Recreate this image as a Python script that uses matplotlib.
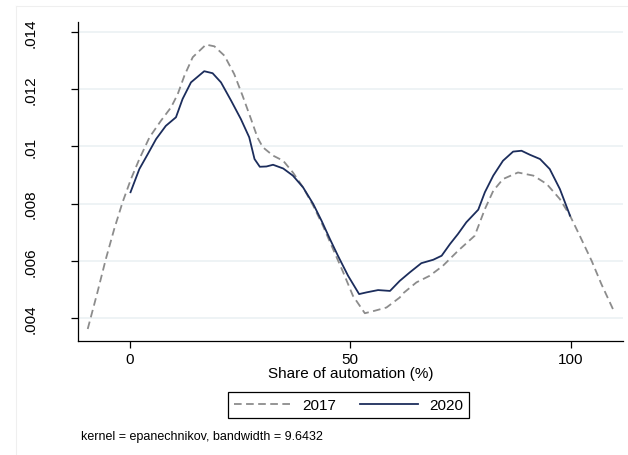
import matplotlib
matplotlib.use("Agg")
import matplotlib.pyplot as plt
from matplotlib.lines import Line2D

plt.rcParams['font.family'] = ['Liberation Sans', 'DejaVu Sans']
plt.rcParams['lines.scale_dashes'] = False

# kernel density estimates, share of automation (%) vs density
x_2017 = [-9.5, -7.3, -5.4, -3.5, -1.6, 0.3, 2.2, 4.5, 7.1, 9.4, 10.9, 12.4, 14.3,
          17.3, 19.2, 21.5, 23.7, 25.6, 27.5, 29.0, 30.2, 32.5, 34.8, 37.0, 39.3,
          41.6, 43.8, 46.1, 48.4, 50.6, 53.3, 55.6, 58.2, 61.2, 62.0, 65.0, 68.0,
          71.0, 74.4, 78.2, 80.5, 82.4, 84.6, 88.0, 91.5, 94.5, 97.5, 99.8, 102.0,
          104.7, 106.9, 109.6]
y_2017 = [0.00362, 0.0049, 0.00606, 0.00711, 0.00805, 0.00886, 0.00956, 0.01032,
          0.0109, 0.01137, 0.01183, 0.01247, 0.01312, 0.01356, 0.0135, 0.01317,
          0.01253, 0.01177, 0.01096, 0.01030, 0.00997, 0.00968, 0.0095, 0.00909,
          0.00857, 0.00793, 0.00723, 0.00641, 0.0056, 0.00478, 0.00417, 0.00426,
          0.00437, 0.00472, 0.00487, 0.00525, 0.00548, 0.00583, 0.00635, 0.00688,
          0.00781, 0.00845, 0.00886, 0.00909, 0.00898, 0.00869, 0.00816, 0.00758,
          0.00688, 0.006, 0.00519, 0.00429]

x_2020 = [0.2, 2.2, 4.1, 6.0, 8.2, 10.5, 12.0, 13.9, 16.9, 18.8, 20.7, 23.0, 25.2,
          27.1, 28.3, 29.5, 31.0, 32.5, 34.8, 37.0, 39.3, 41.6, 43.5, 45.4, 47.2,
          49.5, 52.0, 53.7, 56.3, 59.0, 61.2, 63.5, 66.1, 68.8, 70.7, 72.6, 74.4,
          76.3, 79.0, 80.5, 82.4, 84.6, 86.9, 88.8, 90.7, 93.0, 95.2, 97.5, 99.8]
y_2020 = [0.0084, 0.00921, 0.00973, 0.01026, 0.01072, 0.01102, 0.01166, 0.01224,
          0.01263, 0.01256, 0.01224, 0.0116, 0.01096, 0.01032, 0.00956, 0.00929,
          0.0093, 0.00936, 0.00923, 0.00898, 0.00857, 0.00799, 0.0074, 0.00676,
          0.00618, 0.00548, 0.00484, 0.0049, 0.00498, 0.00495, 0.0053, 0.0056,
          0.00592, 0.00604, 0.00618, 0.00659, 0.00694, 0.00735, 0.00779, 0.0084,
          0.00898, 0.0095, 0.00982, 0.00985, 0.00971, 0.00956, 0.00921, 0.00851,
          0.00758]

xticks = [0, 50, 100]
yticks = [0.004, 0.006, 0.008, 0.010, 0.012, 0.014]
ytick_labels = ['.004', '.006', '.008', '.01', '.012', '.014']
series_names = ['2017', '2020']

fig = plt.figure(figsize=(6.28, 4.56), dpi=100)

# faint graph-region outline
fig.add_artist(Line2D([16/628, 1.0], [1-7/456, 1-7/456], color='#efefef', lw=0.8))
fig.add_artist(Line2D([16/628, 16/628], [0, 1-7/456], color='#efefef', lw=0.8))

ax = fig.add_axes([78/628, 1-342/456, 545/628, 319/456])

ax.plot(x_2017, y_2017, color='#8c8c8c', lw=1.3, dashes=(5.5, 3.2), label=series_names[0])
ax.plot(x_2020, y_2020, color='#1c2d5c', lw=1.3, label=series_names[1])

ax.set_xlim(-11.7, 111.8)
ax.set_ylim(0.0032, 0.01435)

ax.set_xticks(xticks)
ax.set_xticklabels([str(t) for t in xticks])
ax.set_yticks(yticks)
ax.set_yticklabels(ytick_labels, rotation=90, va='center')

ax.grid(axis='y', color='#e9f0f2', lw=1.1)
ax.set_axisbelow(True)

for s in ['top', 'right']:
    ax.spines[s].set_visible(False)
for s in ['left', 'bottom']:
    ax.spines[s].set_linewidth(0.9)
    ax.spines[s].set_color('black')

ax.tick_params(axis='x', length=5, width=0.9, pad=3, labelsize=11)
ax.tick_params(axis='y', length=5, width=0.9, pad=24, labelsize=11)

ax.set_xlabel('Share of automation (%)', fontsize=11, labelpad=0)

leg = fig.legend(loc='center', bbox_to_anchor=(348.5/628, 1-406/456), ncol=2,
                 fontsize=11, frameon=True, fancybox=False, edgecolor='black',
                 framealpha=1, handlelength=3.8, handletextpad=0.7,
                 columnspacing=1.55, borderpad=0.38, borderaxespad=0)
leg.get_frame().set_linewidth(0.9)

fig.text(81/628, 1-437/456, 'kernel = epanechnikov, bandwidth = 9.6432',
         fontsize=9, va='center', ha='left')

fig.savefig('out.png', dpi=100)
